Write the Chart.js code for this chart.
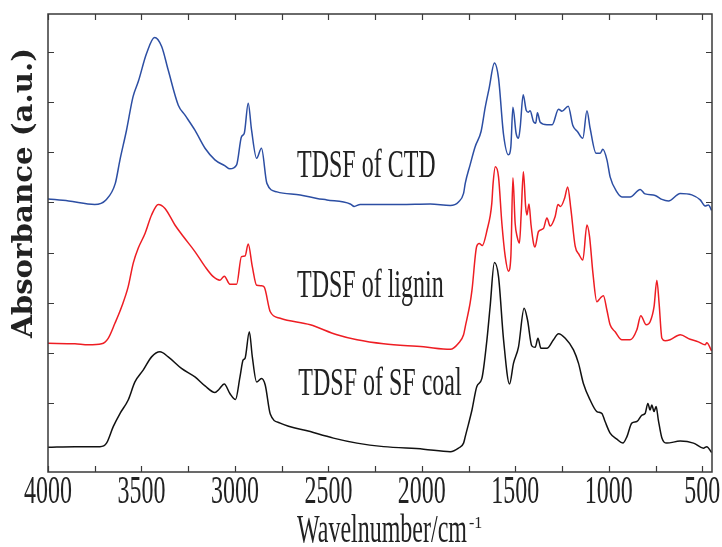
<!DOCTYPE html>
<html>
<head>
<meta charset="utf-8">
<script src="https://cdn.jsdelivr.net/npm/chart.js@4.4.1/dist/chart.umd.min.js"></script>
<style>
  html, body { margin: 0; padding: 0; background: #fff; }
  canvas { display: block; }
</style>
</head>
<body>
<canvas id="ftir" width="722" height="547"></canvas>
<script>
// FTIR spectra of the three TDSF samples (offset for clarity)
var seriesNames = ['TDSF of CTD', 'TDSF of lignin', 'TDSF of SF coal'];

var ctdWavenumber = [4000, 3890, 3750, 3690, 3640, 3615, 3580, 3545, 3517, 3473, 3430, 3392, 3357, 3303, 3267, 3214, 3160, 3107, 3053, 3027, 2991, 2965, 2950, 2929, 2911, 2884, 2858, 2829, 2775, 2651, 2561, 2508, 2383, 2362, 2330, 2116, 1955, 1848, 1804, 1777, 1768, 1742, 1715, 1683, 1661, 1640, 1612, 1590, 1563, 1537, 1524, 1513, 1496, 1483, 1474, 1458, 1442, 1430, 1421, 1403, 1391, 1382, 1367, 1331, 1303, 1269, 1251, 1217, 1193, 1167, 1139, 1117, 1100, 1068, 1046, 1032, 1010, 993, 957, 930, 886, 832, 806, 752, 716, 681, 618, 556, 511, 485, 467, 450];
var ctdAbsorbance = [4.07, 4.03, 3.96, 4.05, 4.38, 4.85, 5.44, 6.11, 6.41, 6.97, 7.29, 7.11, 6.64, 5.94, 5.74, 5.44, 5.08, 4.85, 4.73, 4.67, 4.75, 5.31, 5.38, 5.98, 5.44, 4.88, 5.08, 4.38, 4.21, 4.15, 4.08, 4.05, 3.97, 3.92, 3.96, 3.96, 3.97, 3.94, 4.01, 4.18, 4.38, 4.75, 5.11, 5.42, 5.90, 6.28, 6.78, 6.48, 5.35, 4.95, 5.11, 5.90, 5.38, 5.28, 5.50, 6.15, 5.84, 5.80, 5.83, 5.61, 5.58, 5.79, 5.60, 5.55, 5.55, 5.86, 5.82, 5.92, 5.54, 5.41, 5.28, 5.83, 5.48, 4.98, 4.98, 5.06, 4.85, 4.51, 4.21, 4.11, 4.11, 4.26, 4.17, 4.14, 4.06, 4.03, 4.18, 4.15, 4.05, 3.93, 3.95, 3.84];

var ligninWavenumber = [4000, 3856, 3784, 3713, 3678, 3642, 3606, 3571, 3544, 3517, 3481, 3446, 3410, 3374, 3321, 3276, 3214, 3160, 3116, 3080, 3057, 3027, 2991, 2965, 2946, 2929, 2907, 2884, 2858, 2843, 2811, 2758, 2597, 2454, 2347, 2205, 1991, 1848, 1804, 1777, 1768, 1742, 1732, 1707, 1693, 1677, 1648, 1635, 1626, 1619, 1607, 1590, 1572, 1554, 1537, 1524, 1513, 1501, 1490, 1478, 1469, 1457, 1445, 1438, 1427, 1416, 1403, 1395, 1376, 1350, 1331, 1314, 1287, 1272, 1258, 1236, 1220, 1203, 1180, 1159, 1139, 1117, 1103, 1085, 1064, 1046, 1029, 1010, 993, 966, 930, 886, 850, 829, 800, 779, 758, 743, 731, 716, 699, 672, 618, 565, 521, 485, 476, 450];
var ligninAbsorbance = [1.19, 1.18, 1.16, 1.18, 1.29, 1.59, 1.92, 2.32, 2.79, 3.09, 3.38, 3.75, 3.96, 3.88, 3.55, 3.32, 3.02, 2.72, 2.52, 2.45, 2.53, 2.37, 2.37, 2.92, 2.93, 3.17, 2.72, 2.35, 2.34, 2.31, 1.82, 1.69, 1.56, 1.36, 1.26, 1.18, 1.12, 1.07, 1.19, 1.36, 1.52, 1.99, 2.25, 3.12, 3.18, 3.14, 3.50, 3.72, 3.98, 4.38, 4.71, 4.51, 3.58, 2.92, 2.63, 2.92, 4.49, 3.58, 3.31, 3.19, 3.75, 4.61, 3.92, 3.75, 3.97, 3.55, 3.19, 3.11, 3.42, 3.48, 3.69, 3.53, 3.72, 3.96, 3.92, 4.09, 4.31, 3.87, 3.13, 2.96, 2.85, 3.55, 3.32, 2.59, 2.02, 2.09, 2.14, 1.85, 1.56, 1.42, 1.26, 1.26, 1.46, 1.74, 1.56, 1.62, 1.92, 2.45, 1.99, 1.29, 1.24, 1.26, 1.36, 1.27, 1.22, 1.16, 1.20, 1.04];

var coalWavenumber = [4000, 3856, 3722, 3687, 3651, 3615, 3571, 3535, 3490, 3446, 3401, 3357, 3286, 3214, 3160, 3107, 3086, 3057, 3027, 2997, 2973, 2956, 2946, 2923, 2907, 2884, 2858, 2838, 2811, 2758, 2597, 2473, 2347, 2205, 1991, 1848, 1804, 1777, 1768, 1752, 1732, 1706, 1679, 1652, 1635, 1612, 1590, 1563, 1531, 1510, 1483, 1453, 1435, 1412, 1394, 1379, 1363, 1331, 1296, 1269, 1233, 1189, 1162, 1136, 1100, 1064, 1037, 1020, 993, 957, 925, 903, 877, 850, 823, 806, 791, 779, 770, 758, 747, 735, 716, 690, 618, 547, 494, 476, 450];
var coalAbsorbance = [-0.88, -0.87, -0.87, -0.80, -0.47, -0.21, 0.06, 0.42, 0.66, 0.92, 1.02, 0.92, 0.69, 0.52, 0.34, 0.21, 0.27, 0.38, 0.19, 0.07, 0.52, 0.86, 0.89, 1.42, 0.92, 0.42, 0.49, 0.36, -0.22, -0.40, -0.57, -0.70, -0.80, -0.87, -0.92, -0.97, -0.90, -0.80, -0.67, -0.44, -0.14, 0.33, 0.49, 1.26, 1.92, 2.80, 2.52, 1.26, 0.38, 0.79, 1.12, 1.89, 1.66, 1.14, 1.11, 1.29, 1.09, 1.09, 1.26, 1.38, 1.29, 1.06, 0.79, 0.39, 0.06, -0.17, -0.21, -0.37, -0.60, -0.72, -0.80, -0.67, -0.40, -0.37, -0.24, -0.21, -0.01, -0.14, -0.04, -0.17, -0.07, -0.34, -0.70, -0.80, -0.76, -0.80, -0.90, -0.87, -0.99];

var xTickValues = [4000, 3500, 3000, 2500, 2000, 1500, 1000, 500];
var xMinorTicks = [3750, 3250, 2750, 2250, 1750, 1250, 750];
var yTickValues = [0, 1, 2, 3, 4, 5, 6, 7];

function toPoints(xs, ys) {
    return xs.map(function (x, i) { return { x: x, y: ys[i] }; });
}

// serif text squeezed horizontally, like the condensed Times of the original plot
function squeezed(ctx, text, x, y, align, size) {
    ctx.save();
    ctx.font = size + 'px "Liberation Serif"';
    ctx.textAlign = align;
    ctx.textBaseline = 'alphabetic';
    ctx.translate(x, y);
    ctx.scale(0.6, 1);
    ctx.fillText(text, 0, 0);
    ctx.restore();
}

var framePlugin = {
    id: 'framePlugin',
    afterDraw: function (chart) {
        var ctx = chart.ctx;
        var a = chart.chartArea;
        var xs = chart.scales.x, ys = chart.scales.y;
        var tick = 6;
        ctx.save();
        ctx.strokeStyle = '#3a3a3a';
        ctx.lineWidth = 1.5;
        ctx.strokeRect(a.left, a.top, a.right - a.left, a.bottom - a.top);

        ctx.lineWidth = 1.2;
        ctx.beginPath();
        xTickValues.concat(xMinorTicks).forEach(function (v) {
            var px = Math.round(xs.getPixelForValue(v)) + 0.5;
            if (px < a.left || px > a.right) return;
            ctx.moveTo(px, a.bottom); ctx.lineTo(px, a.bottom - tick);
            ctx.moveTo(px, a.top); ctx.lineTo(px, a.top + tick);
        });
        yTickValues.forEach(function (v) {
            var py = Math.round(ys.getPixelForValue(v)) + 0.5;
            ctx.moveTo(a.left, py); ctx.lineTo(a.left + tick, py);
            ctx.moveTo(a.right, py); ctx.lineTo(a.right - tick, py);
        });
        ctx.stroke();

        ctx.fillStyle = '#222';
        xTickValues.forEach(function (v) {
            squeezed(ctx, String(v), xs.getPixelForValue(v), a.bottom + 31, 'center', 40);
        });

        // x axis title with superscript
        squeezed(ctx, 'Wavelnumber/cm', 297, 542, 'left', 40);
        ctx.font = '16px "Liberation Serif"';
        ctx.textAlign = 'left';
        ctx.fillText('-1', 469, 528);

        // y axis title
        ctx.save();
        ctx.translate(32, 193);
        ctx.rotate(-Math.PI / 2);
        ctx.font = 'bold 27px "DejaVu Serif"';
        ctx.textAlign = 'center';
        ctx.textBaseline = 'alphabetic';
        var w = ctx.measureText('Absorbance (a.u.)').width;
        ctx.scale(290 / w, 1);
        ctx.fillText('Absorbance (a.u.)', 0, 0);
        ctx.restore();

        // curve names, anchored in data coordinates
        var anchors = [[2668, 4.50], [2668, 2.12], [2661, 0.16]];
        seriesNames.forEach(function (name, i) {
            squeezed(ctx, name, xs.getPixelForValue(anchors[i][0]), ys.getPixelForValue(anchors[i][1]), 'left', 40);
        });
        ctx.restore();
    }
};

var ctx = document.getElementById('ftir').getContext('2d');
var chart = new Chart(ctx, {
    type: 'line',
    data: {
        datasets: [{
            label: seriesNames[0],
            data: toPoints(ctdWavenumber, ctdAbsorbance),
            borderColor: '#2c4ea3',
        }, {
            label: seriesNames[1],
            data: toPoints(ligninWavenumber, ligninAbsorbance),
            borderColor: '#ee1d23',
        }, {
            label: seriesNames[2],
            data: toPoints(coalWavenumber, coalAbsorbance),
            borderColor: '#111111',
        }]
    },
    options: {
        responsive: false,
        animation: false,
        layout: { padding: { left: 48, right: 10, top: 14, bottom: 75 } },
        elements: {
            point: { radius: 0 },
            line: { borderWidth: 1.5, cubicInterpolationMode: 'monotone', fill: false }
        },
        scales: {
            x: { type: 'linear', display: false, reverse: true, min: 448, max: 4000 },
            y: { type: 'linear', display: false, min: -1.376, max: 7.758 }
        },
        plugins: {
            legend: { display: false },
            tooltip: { enabled: false }
        }
    },
    plugins: [framePlugin]
});
</script>
</body>
</html>
